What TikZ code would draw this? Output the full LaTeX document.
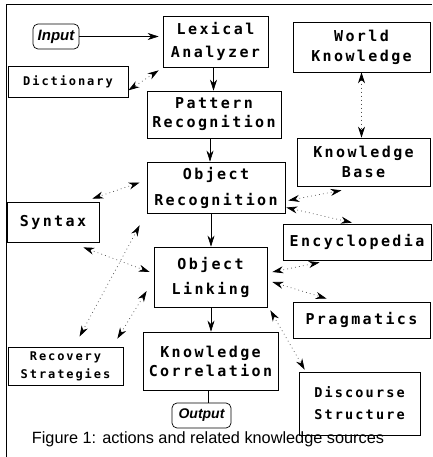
\documentclass[tikz,border=0pt]{standalone}
\usepackage{fontspec}
\setmainfont{Liberation Sans}
\newfontfamily\monof[LetterSpace=16]{DejaVu Sans Mono}
\usetikzlibrary{arrows.meta,calc}
\newcommand\bigf[1]{\monof\bfseries\fontsize{15}{#1}\selectfont}
\newcommand\smallf[2]{\monof\bfseries\fontsize{#1}{#2}\selectfont}
\tikzset{
  box/.style={draw, line width=0.7pt, rectangle, inner sep=0pt, align=center},
  rbox/.style={draw, line width=0.7pt, rectangle, rounded corners=5pt, inner sep=0pt, align=center,
    font=\bfseries\itshape\fontsize{15}{18}\selectfont},
  hd/.tip={Stealth[length=11pt,width=7pt,inset=3.5pt,color=black]},
  solidarrow/.style={line width=0.6pt, -hd},
  dotlink/.style={line width=0.7pt, black!70, dash pattern=on 0.8pt off 3.2pt, hd-hd},
  frame/.style={line width=0.6pt}
}
\begin{document}
\begin{tikzpicture}[x=1pt,y=-1pt]
\useasboundingbox (0,0) rectangle (432,457);
\draw[frame] (6,457) -- (6,4) -- (432,4);

\node[rbox, minimum width=46, minimum height=25] (input) at (56,36.5) {Input};
\node[box, minimum width=105, minimum height=51, font=\bigf{23}] (lex) at (215.5,41.5) {Lexical\\Analyzer};
\node[box, minimum width=137, minimum height=50, font=\bigf{20}] (world) at (361.5,47) {World\\Knowledge};
\node[box, minimum width=120, minimum height=31, font=\smallf{12}{14}] (dict) at (68,81.5) {Dictionary};
\node[box, minimum width=134, minimum height=47, font=\bigf{19}] (pattern) at (214,114.5) {Pattern\\Recognition};
\node[box, minimum width=133, minimum height=48, font=\bigf{20}] (kb) at (363.5,162) {Knowledge\\Base};
\node[box, minimum width=138, minimum height=51, font=\bigf{26}] (objrec) at (216,187.5) {Object\\Recognition};
\node[box, minimum width=92, minimum height=40, font=\bigf{18}] (syntax) at (53,222) {Syntax};
\node[box, minimum width=148, minimum height=36, font=\bigf{18}] (encyc) at (357,242) {Encyclopedia};
\node[box, minimum width=113, minimum height=60, font=\bigf{25}] (objlink) at (210.5,277) {Object\\Linking};
\node[box, minimum width=137, minimum height=36, font=\bigf{18}] (prag) at (361.5,320) {Pragmatics};
\node[box, minimum width=115, minimum height=38, font=\smallf{12}{18}] (recov) at (65.5,366) {Recovery\\Strategies};
\node[box, minimum width=135, minimum height=58, font=\bigf{19}] (kcorr) at (210.5,361) {Knowledge\\Correlation};
\node[box, minimum width=121, minimum height=63, font=\smallf{13.5}{22}] (disc) at (359.5,403.5) {Discourse\\Structure};
\node[rbox, minimum width=59, minimum height=25, font=\bfseries\itshape\fontsize{14}{17}\selectfont] (output) at (201.5,415.5) {Output};
\node[anchor=base, inner sep=0pt, font=\fontsize{16.3}{19}\selectfont] (caption) at (208,443) {Figure 1: actions and related knowledge sources};

% solid flow
\draw[solidarrow, shorten >=4pt] (input.east) -- (lex.west |- input.east);
\coordinate (l1) at ($(lex.south)+(-2,0)$);
\draw[solidarrow] (l1) -- (l1 |- pattern.north);
\coordinate (p1) at ($(pattern.south)+(-4,0)$);
\draw[solidarrow] (p1) -- (p1 |- objrec.north);
\coordinate (o1) at ($(objrec.south)+(-5,0)$);
\draw[solidarrow] (o1) -- (o1 |- objlink.north);
\coordinate (k1) at ($(objlink.south)+(0.5,0)$);
\draw[solidarrow] (k1) -- (k1 |- kcorr.north);
\coordinate (q1) at ($(kcorr.south)+(-2,0)$);
\draw[line width=0.6pt] (q1) -- (q1 |- output.north);

% dotted knowledge links
\draw[dotlink] ($(lex.south west)+(-4,3)$) -- ($(dict.south east)+(0,-7)$);
\draw[dotlink] (world.south) -- (world.south |- kb.north);
\draw[dotlink] ($(objrec.east)+(3,13)$) -- ($(kb.south)+(-22,4)$);
\draw[dotlink] ($(objrec.east)+(1,20)$) -- ($(encyc.north)+(-5,-1)$);
\draw[dotlink] ($(objrec.west)+(-7,-5)$) -- ($(syntax.north east)+(-7,-3)$);
\draw[dotlink] ($(syntax.south east)+(-16,5)$) -- ($(objlink.west)+(-4,-5)$);
\draw[dotlink] ($(recov.north)+(14,-10)$) -- ($(objrec.south west)+(-7,12)$);
\draw[dotlink] ($(recov.north east)+(-6,-8)$) -- ($(objlink.west)+(-7,14)$);
\draw[dotlink] ($(objlink.east)+(5,-5)$) -- ($(encyc.south west)+(37,2)$);
\draw[dotlink] ($(objlink.east)+(5,5)$) -- ($(prag.north west)+(34,-3)$);
\draw[dotlink] ($(objlink.south east)+(3,3)$) -- ($(disc.north west)+(6,-2)$);
\end{tikzpicture}
\end{document}
